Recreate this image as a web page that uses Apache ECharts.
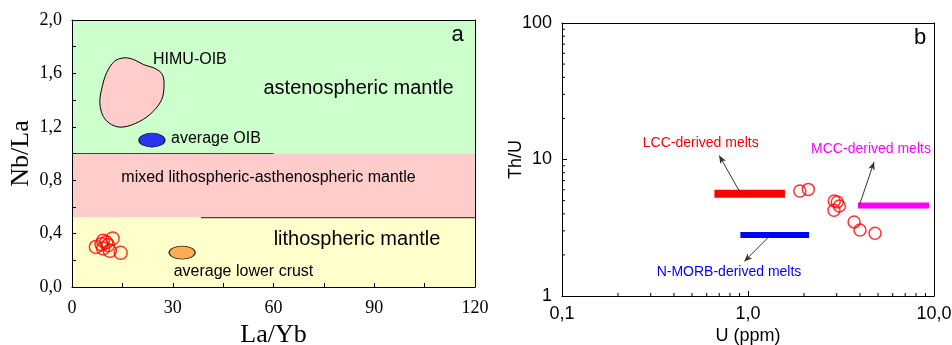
<!DOCTYPE html>
<html><head><meta charset="utf-8">
<script src="https://cdn.jsdelivr.net/npm/echarts@6/dist/echarts.min.js"></script>
<style>html,body{margin:0;padding:0;background:#fff}#c{width:952px;height:345px}</style>
</head><body><div id="c"></div>
<script>
// ---------- Panel a data ----------
const aXTickLabels = ['0', '30', '60', '90', '120'];
const aYTickLabels = ['0,0', '0,4', '0,8', '1,2', '1,6', '2,0'];
const aRegionBounds = [[0, 1.0, 120, 2.0], [0, 0.52, 120, 1.0], [0, 0, 120, 0.52]];
const aRegionColors = ['#ccffcc', '#ffcccc', '#ffffcc'];
const aLine1X = [0, 60], aLine1Y = [1.0, 1.0];
const aLine2X = [38.4, 120], aLine2Y = [0.52, 0.52];
const himuX = [15.8, 18.7, 21.2, 24.7, 26.9, 27.4, 26.7, 24.2, 20.2, 15.2, 11.8, 9.3, 8.3, 8.8, 10.3, 12.7];
const himuY = [1.717, 1.70, 1.667, 1.637, 1.592, 1.504, 1.404, 1.316, 1.241, 1.198, 1.216, 1.278, 1.379, 1.479, 1.604, 1.692];
const avgOIB = [23.8, 1.10];
const avgLowerCrust = [32.8, 0.258];
const aSamplesX = [7.1, 9.25, 12.1, 10.75, 9.25, 11.25, 14.5, 8.8, 10.2];
const aSamplesY = [0.30, 0.346, 0.364, 0.313, 0.289, 0.271, 0.256, 0.32, 0.335];

// ---------- Panel b data ----------
const bXTickLabels = ['0,1', '1,0', '10,0'];
const bYTickLabels = ['1', '10', '100'];
const bXMinor = [0.2, 0.3, 0.4, 0.5, 0.6, 0.7, 0.8, 0.9, 2, 3, 4, 5, 6, 7, 8, 9];
const bYMinor = [2, 3, 4, 5, 6, 7, 8, 9, 20, 30, 40, 50, 60, 70, 80, 90];
const lccX = [0.66, 1.58], lccY = [5.6, 5.6];
const morbX = [0.91, 2.13], morbY = [2.8, 2.8];
const mccX = [3.9, 9.4], mccY = [4.6, 4.6];
const lccArrow = [[0.906, 5.75], [0.70, 10.7]];
const mccArrow = [[3.97, 4.62], [4.76, 9.6]];
const morbArrow = [[1.31, 2.76], [0.955, 1.79]];
const bSamplesX = [1.90, 2.11, 2.91, 3.02, 2.90, 3.10, 3.72, 4.00, 4.82];
const bSamplesY = [5.88, 6.04, 4.97, 4.89, 4.25, 4.57, 3.49, 3.04, 2.88];

const serif = '"Liberation Serif", "Times New Roman", serif';
const sans = '"Liberation Sans", Arial, sans-serif';

const chart = echarts.init(document.getElementById('c'), null, {renderer: 'canvas'});

function frameAxis(gridIndex, position) {
  return {
    gridIndex: gridIndex, type: 'value', position: position, min: 0, max: 1, z: 10,
    axisLine: {show: true, onZero: false, lineStyle: {color: '#000', width: 1}},
    axisTick: {show: false}, axisLabel: {show: false}, splitLine: {show: false}
  };
}

const option = {
  animation: false,
  backgroundColor: '#fff',
  grid: [
    {left: 72, top: 20, width: 403, height: 267, containLabel: false, outerBoundsMode: 'none'},
    {left: 562, top: 23, width: 372, height: 273, containLabel: false, outerBoundsMode: 'none'}
  ],
  xAxis: [
    {
      gridIndex: 0, type: 'value', min: 0, max: 120, interval: 15, z: 10,
      name: 'La/Yb', nameLocation: 'middle', nameGap: 35, nameMoveOverlap: false,
      nameTextStyle: {fontFamily: serif, fontSize: 26, color: '#000'},
      axisLine: {show: true, onZero: false, lineStyle: {color: '#000', width: 1}},
      axisTick: {show: true, inside: true, length: 4, lineStyle: {color: '#000'}},
      axisLabel: {
        fontFamily: serif, fontSize: 18, color: '#000', margin: 12,
        formatter: v => (Math.round(v) % 30 === 0 ? aXTickLabels[Math.round(v / 30)] : '')
      },
      splitLine: {show: false}
    },
    frameAxis(0, 'top'),
    {
      gridIndex: 1, type: 'log', logBase: 10, min: 0.1, max: 10, z: 10,
      name: 'U (ppm)', nameLocation: 'middle', nameGap: 31, nameMoveOverlap: false,
      nameTextStyle: {fontFamily: sans, fontSize: 18, color: '#000'},
      axisLine: {show: true, onZero: false, lineStyle: {color: '#000', width: 1}},
      axisTick: {show: true, inside: true, length: 5, lineStyle: {color: '#000'}},
      axisLabel: {
        fontFamily: sans, fontSize: 18, color: '#000', margin: 9,
        formatter: v => bXTickLabels[Math.round(Math.log10(v)) + 1] || ''
      },
      splitLine: {show: false}
    },
    frameAxis(1, 'top')
  ],
  yAxis: [
    {
      gridIndex: 0, type: 'value', min: 0, max: 2, interval: 0.2, z: 10,
      name: 'Nb/La', nameLocation: 'middle', nameGap: 38, nameMoveOverlap: false,
      nameTextStyle: {fontFamily: serif, fontSize: 26, color: '#000'},
      axisLine: {show: true, onZero: false, lineStyle: {color: '#000', width: 1}},
      axisTick: {show: true, inside: true, length: 4, lineStyle: {color: '#000'}},
      axisLabel: {
        fontFamily: serif, fontSize: 18, color: '#000', margin: 10, padding: [3, 0, 0, 0],
        formatter: v => (Math.round(v * 10) % 4 === 0 ? aYTickLabels[Math.round(v / 0.4)] : '')
      },
      splitLine: {show: false}
    },
    frameAxis(0, 'right'),
    {
      gridIndex: 1, type: 'log', logBase: 10, min: 1, max: 100, z: 10,
      name: 'Th/U', nameLocation: 'middle', nameGap: 37, nameMoveOverlap: false,
      nameTextStyle: {fontFamily: sans, fontSize: 18, color: '#000'},
      axisLine: {show: true, onZero: false, lineStyle: {color: '#000', width: 1}},
      axisTick: {show: true, inside: true, length: 5, lineStyle: {color: '#000'}},
      axisLabel: {
        fontFamily: sans, fontSize: 18, color: '#000', margin: 10,
        formatter: v => bYTickLabels[Math.round(Math.log10(v))] || ''
      },
      splitLine: {show: false}
    },
    frameAxis(1, 'right')
  ],
  series: [
    {
      type: 'custom', xAxisIndex: 0, yAxisIndex: 0, z: 1, silent: true,
      data: aRegionBounds,
      renderItem: function (params, api) {
        const p0 = api.coord([api.value(0), api.value(1)]);
        const p1 = api.coord([api.value(2), api.value(3)]);
        return {
          type: 'rect',
          shape: {x: p0[0], y: p1[1], width: p1[0] - p0[0], height: p0[1] - p1[1]},
          style: {fill: aRegionColors[params.dataIndex]}
        };
      }
    },
    {
      type: 'line', xAxisIndex: 0, yAxisIndex: 0, z: 2, symbol: 'none', silent: true,
      lineStyle: {color: '#444', width: 1.2},
      data: aLine1X.map((x, i) => [x, aLine1Y[i]])
    },
    {
      type: 'line', xAxisIndex: 0, yAxisIndex: 0, z: 2, symbol: 'none', silent: true,
      lineStyle: {color: '#444', width: 1.2},
      data: aLine2X.map((x, i) => [x, aLine2Y[i]])
    },
    {
      type: 'custom', xAxisIndex: 0, yAxisIndex: 0, z: 3, silent: true,
      data: [[himuX[0], himuY[0]]],
      renderItem: function (params, api) {
        const pts = himuX.map((x, i) => api.coord([x, himuY[i]]));
        return {
          type: 'polygon', shape: {points: pts, smooth: 0.35},
          style: {fill: '#ffcccc', stroke: '#000', lineWidth: 1}
        };
      }
    },
    {
      type: 'scatter', xAxisIndex: 0, yAxisIndex: 0, z: 4, symbol: 'circle', symbolSize: [26, 14],
      itemStyle: {color: '#0000ff', borderColor: '#000', borderWidth: 1},
      data: [avgOIB]
    },
    {
      type: 'scatter', xAxisIndex: 0, yAxisIndex: 0, z: 4, symbol: 'circle', symbolSize: [26, 13],
      itemStyle: {color: '#ff9933', borderColor: '#000', borderWidth: 1},
      data: [avgLowerCrust]
    },
    {
      type: 'scatter', xAxisIndex: 0, yAxisIndex: 0, z: 5, symbol: 'circle', symbolSize: 13,
      itemStyle: {color: 'rgba(0,0,0,0)', borderColor: '#ff0000', borderWidth: 1.5},
      data: aSamplesX.map((x, i) => [x, aSamplesY[i]])
    },
    {
      type: 'custom', xAxisIndex: 2, yAxisIndex: 2, z: 11, silent: true, clip: false,
      data: bXMinor.map(v => [v, 1]),
      renderItem: function (params, api) {
        const p = api.coord([api.value(0), 1]);
        return {type: 'line', shape: {x1: p[0], y1: p[1], x2: p[0], y2: p[1] - 3}, style: {stroke: '#000', lineWidth: 1}};
      }
    },
    {
      type: 'custom', xAxisIndex: 2, yAxisIndex: 2, z: 11, silent: true, clip: false,
      data: bYMinor.map(v => [0.1, v]),
      renderItem: function (params, api) {
        const p = api.coord([0.1, api.value(1)]);
        return {type: 'line', shape: {x1: p[0], y1: p[1], x2: p[0] + 3, y2: p[1]}, style: {stroke: '#000', lineWidth: 1}};
      }
    },
    {
      type: 'line', xAxisIndex: 2, yAxisIndex: 2, z: 3, symbol: 'none', silent: true,
      lineStyle: {color: '#ff0000', width: 8},
      data: lccX.map((x, i) => [x, lccY[i]]),
      markLine: {
        silent: true, symbol: ['none', 'arrow'], symbolSize: [5, 8], label: {show: false},
        lineStyle: {color: '#333', width: 1, type: 'solid'},
        data: [[{coord: lccArrow[0]}, {coord: lccArrow[1]}]]
      }
    },
    {
      type: 'line', xAxisIndex: 2, yAxisIndex: 2, z: 3, symbol: 'none', silent: true,
      lineStyle: {color: '#0000ff', width: 6},
      data: morbX.map((x, i) => [x, morbY[i]]),
      markLine: {
        silent: true, symbol: ['none', 'arrow'], symbolSize: [5, 8], label: {show: false},
        lineStyle: {color: '#333', width: 1, type: 'solid'},
        data: [[{coord: morbArrow[0]}, {coord: morbArrow[1]}]]
      }
    },
    {
      type: 'line', xAxisIndex: 2, yAxisIndex: 2, z: 3, symbol: 'none', silent: true,
      lineStyle: {color: '#ff00ff', width: 6},
      data: mccX.map((x, i) => [x, mccY[i]]),
      markLine: {
        silent: true, symbol: ['none', 'arrow'], symbolSize: [5, 8], label: {show: false},
        lineStyle: {color: '#333', width: 1, type: 'solid'},
        data: [[{coord: mccArrow[0]}, {coord: mccArrow[1]}]]
      }
    },
    {
      type: 'scatter', xAxisIndex: 2, yAxisIndex: 2, z: 5, symbol: 'circle', symbolSize: 12,
      itemStyle: {color: 'rgba(0,0,0,0)', borderColor: '#ff0000', borderWidth: 1.5},
      data: bSamplesX.map((x, i) => [x, bSamplesY[i]])
    }
  ],
  graphic: [
    {type: 'text', x: 457.5, y: 35, z: 20, style: {text: 'a', font: '22px ' + sans, fill: '#000', textAlign: 'center', textVerticalAlign: 'middle'}},
    {type: 'text', x: 153, y: 60, z: 20, style: {text: 'HIMU-OIB', font: '16px ' + sans, fill: '#000', textAlign: 'left', textVerticalAlign: 'middle'}},
    {type: 'text', x: 358.5, y: 88, z: 20, style: {text: 'astenospheric mantle', font: '20px ' + sans, fill: '#000', textAlign: 'center', textVerticalAlign: 'middle'}},
    {type: 'text', x: 171, y: 139, z: 20, style: {text: 'average OIB', font: '16px ' + sans, fill: '#000', textAlign: 'left', textVerticalAlign: 'middle'}},
    {type: 'text', x: 268.5, y: 178, z: 20, style: {text: 'mixed lithospheric-asthenospheric mantle', font: '16px ' + sans, fill: '#000', textAlign: 'center', textVerticalAlign: 'middle'}},
    {type: 'text', x: 357, y: 239, z: 20, style: {text: 'lithospheric mantle', font: '20px ' + sans, fill: '#000', textAlign: 'center', textVerticalAlign: 'middle'}},
    {type: 'text', x: 243.5, y: 272, z: 20, style: {text: 'average lower crust', font: '16px ' + sans, fill: '#000', textAlign: 'center', textVerticalAlign: 'middle'}},
    {type: 'text', x: 920, y: 38, z: 20, style: {text: 'b', font: '22px ' + sans, fill: '#000', textAlign: 'center', textVerticalAlign: 'middle'}},
    {type: 'text', x: 700.7, y: 143.5, z: 20, style: {text: 'LCC-derived melts', font: '14px ' + sans, fill: '#ff0000', textAlign: 'center', textVerticalAlign: 'middle'}},
    {type: 'text', x: 871, y: 149, z: 20, style: {text: 'MCC-derived melts', font: '14px ' + sans, fill: '#ff00ff', textAlign: 'center', textVerticalAlign: 'middle'}},
    {type: 'text', x: 729, y: 272.5, z: 20, style: {text: 'N-MORB-derived melts', font: '14px ' + sans, fill: '#0000ff', textAlign: 'center', textVerticalAlign: 'middle'}}
  ]
};
chart.setOption(option);
</script>
</body></html>
